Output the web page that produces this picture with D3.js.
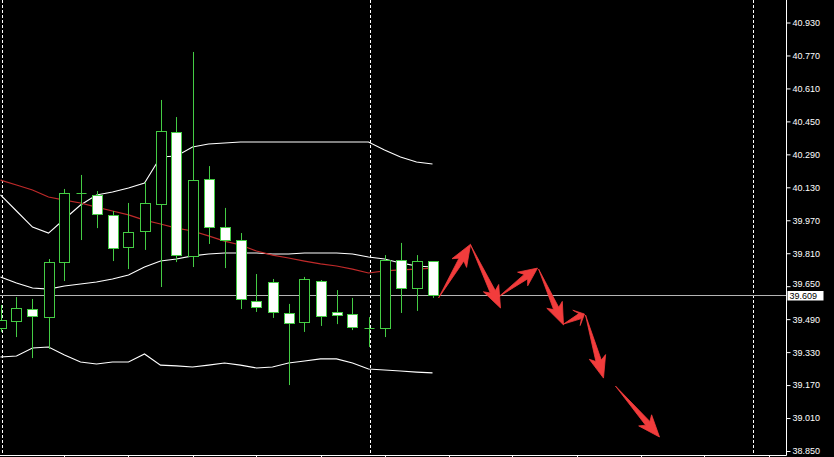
<!DOCTYPE html>
<html><head><meta charset="utf-8">
<script src="https://cdn.jsdelivr.net/npm/d3@7/dist/d3.min.js"></script>
<style>html,body{margin:0;padding:0;background:#000;}svg{display:block;}</style>
</head><body>
<svg id="chart" width="834" height="457"></svg>
<script>
// ---- data ----
const bars   = [0,1,2,3,4,5,6,7,8,9,10,11,12,13,14,15,16,17,18,19,20,21,22,23,24,25,26,27];
const opens  = [39.447,39.481,39.539,39.500,39.767,40.102,40.093,39.996,39.840,39.918,40.049,40.398,39.797,40.170,39.937,39.874,39.578,39.670,39.520,39.476,39.675,39.525,39.515,39.447,39.447,39.777,39.641,39.772];
const highs  = [39.559,39.597,39.588,39.782,40.122,40.190,40.112,40.015,40.054,40.156,40.554,40.471,40.787,40.233,40.030,39.908,39.709,39.685,39.564,39.695,39.680,39.631,39.593,39.500,39.801,39.860,39.801,39.772];
const lows   = [39.428,39.403,39.301,39.345,39.675,39.874,39.932,39.772,39.733,39.826,39.646,39.767,39.743,39.855,39.738,39.539,39.525,39.496,39.170,39.428,39.457,39.466,39.437,39.355,39.403,39.520,39.530,39.593];
const closes = [39.486,39.544,39.505,39.767,40.102,40.102,40.000,39.835,39.913,40.054,40.403,39.801,40.165,39.937,39.874,39.588,39.549,39.525,39.471,39.685,39.505,39.510,39.452,39.447,39.777,39.641,39.772,39.609];
const bbUpper  = [40.093,40.015,39.937,39.908,39.976,40.044,40.093,40.107,40.127,40.151,40.277,40.282,40.326,40.340,40.345,40.350,40.350,40.350,40.350,40.350,40.350,40.350,40.350,40.350,40.311,40.277,40.253,40.243];
const bbMiddle = [39.695,39.665,39.641,39.636,39.651,39.661,39.670,39.685,39.704,39.743,39.772,39.782,39.797,39.806,39.811,39.811,39.811,39.806,39.806,39.811,39.811,39.811,39.806,39.792,39.782,39.763,39.748,39.743];
const bbLower  = [39.306,39.311,39.350,39.355,39.316,39.282,39.272,39.282,39.282,39.321,39.267,39.263,39.258,39.267,39.277,39.267,39.253,39.258,39.277,39.287,39.297,39.297,39.277,39.248,39.243,39.238,39.233,39.229];
const maRed    = [40.165,40.141,40.117,40.083,40.068,40.054,40.034,40.015,39.996,39.971,39.952,39.932,39.918,39.894,39.869,39.850,39.821,39.801,39.787,39.772,39.758,39.748,39.733,39.714,39.724,39.729,39.733,39.738];
const priceTicks = [40.930,40.770,40.610,40.450,40.290,40.130,39.970,39.810,39.650,39.490,39.330,39.170,39.010,38.850];
const currentPrice = 39.609;
const separatorBars = [0,23,47];
// forecast arrows: tail (bar, price) -> tip (bar, price)
const arrowTailBar   = [27.38,29.38,31.13,33.63,35.19,36.56,38.44];
const arrowTailPrice = [39.593,39.850,39.598,39.733,39.466,39.510,39.165];
const arrowTipBar    = [29.38,31.25,33.56,35.19,36.50,37.69,41.19];
const arrowTipPrice  = [39.854,39.544,39.738,39.462,39.515,39.204,38.918];

// ---- layout ----
const W = 834, H = 457, plotRight = 786.5, plotBottom = 455.5;
const x = d3.scaleLinear().domain([0, 48]).range([0.5, 768.5]);
const y = d3.scaleLinear().domain([38.85, 40.93]).range([451, 22.5]);

const svg = d3.select("#chart");
svg.append("rect").attr("width", W).attr("height", H).attr("fill", "#000");

const GREEN = "#44cc44";

// separators
svg.append("g").selectAll("line").data(separatorBars).join("line")
  .attr("x1", d => Math.round(x(d)) + 1.5).attr("x2", d => Math.round(x(d)) + 1.5)
  .attr("y1", 0).attr("y2", plotBottom)
  .attr("stroke", "#fff").attr("stroke-width", 1).attr("stroke-dasharray", "3,2");

// current price line
svg.append("line").attr("x1", 0).attr("x2", plotRight)
  .attr("y1", Math.round(y(currentPrice)) + 0.5).attr("y2", Math.round(y(currentPrice)) + 0.5)
  .attr("stroke", "#b4b4b4").attr("stroke-width", 1);

// indicator lines
const lineGen = arr => d3.line().x((d, i) => x(bars[i])).y(d => y(d))(arr);
[bbUpper, bbMiddle, bbLower].forEach(arr => {
  svg.append("path").attr("d", lineGen(arr)).attr("fill", "none")
    .attr("stroke", "#fff").attr("stroke-width", 1.1);
});
svg.append("path").attr("d", lineGen(maRed)).attr("fill", "none")
  .attr("stroke", "#c02a2a").attr("stroke-width", 1.2);

// candles
const candles = bars.map((b, i) => ({b, o: opens[i], h: highs[i], l: lows[i], c: closes[i]}));
const cg = svg.append("g");
candles.forEach(d => {
  const cx = Math.round(x(d.b)) + 0.5;
  cg.append("line").attr("x1", cx).attr("x2", cx).attr("y1", y(d.h)).attr("y2", y(d.l))
    .attr("stroke", GREEN).attr("stroke-width", 1);
  if (Math.abs(d.o - d.c) < 0.0005) {
    cg.append("line").attr("x1", cx - 5).attr("x2", cx + 5)
      .attr("y1", Math.round(y(d.c)) + 0.5).attr("y2", Math.round(y(d.c)) + 0.5)
      .attr("stroke", GREEN).attr("stroke-width", 1);
  } else {
    const top = y(Math.max(d.o, d.c)), bot = y(Math.min(d.o, d.c));
    cg.append("rect").attr("x", cx - 5).attr("y", Math.round(top) + 0.5)
      .attr("width", 10).attr("height", Math.max(1, Math.round(bot - top)))
      .attr("fill", d.c < d.o ? "#fff" : "#000")
      .attr("stroke", GREEN).attr("stroke-width", 1);
  }
});

// arrows
function arrowPath(x0, y0, x1, y1) {
  const dx = x1 - x0, dy = y1 - y0, L = Math.hypot(dx, dy);
  const ux = dx / L, uy = dy / L, nx = -uy, ny = ux;
  const head = Math.min(22, L * 0.38), shaftW = 2.8, headW = 8.5;
  const bx = x1 - ux * head, by = y1 - uy * head;
  const cx = x1 - ux * (head - 4), cy = y1 - uy * (head - 4);
  const pts = [
    [x0, y0],
    [cx + nx * shaftW, cy + ny * shaftW],
    [bx + nx * headW, by + ny * headW],
    [x1, y1],
    [bx - nx * headW, by - ny * headW],
    [cx - nx * shaftW, cy - ny * shaftW]
  ];
  return "M" + pts.map(p => p[0].toFixed(1) + "," + p[1].toFixed(1)).join("L") + "Z";
}
svg.append("g").selectAll("path").data(arrowTailBar).join("path")
  .attr("d", (d, i) => arrowPath(x(arrowTailBar[i]), y(arrowTailPrice[i]), x(arrowTipBar[i]), y(arrowTipPrice[i])))
  .attr("fill", "#f23c3c").attr("stroke", "#f23c3c").attr("stroke-width", 0.8).attr("stroke-linejoin", "round");

// right axis area
svg.append("rect").attr("x", plotRight + 0.5).attr("y", 0).attr("width", W - plotRight).attr("height", H).attr("fill", "#000");
svg.append("line").attr("x1", plotRight).attr("x2", plotRight).attr("y1", 0).attr("y2", plotBottom)
  .attr("stroke", "#fff").attr("stroke-width", 1);
svg.append("line").attr("x1", 0).attr("x2", plotRight).attr("y1", plotBottom).attr("y2", plotBottom)
  .attr("stroke", "#fff").attr("stroke-width", 1);

// bottom ticks every 4 bars
const xTicks = d3.range(4, 49, 4);
svg.append("g").selectAll("line").data(xTicks).join("line")
  .attr("x1", d => Math.round(x(d)) + 0.5).attr("x2", d => Math.round(x(d)) + 0.5)
  .attr("y1", plotBottom).attr("y2", H).attr("stroke", "#fff");

const yAxis = d3.axisRight(y).tickValues(priceTicks).tickSize(4).tickPadding(2)
  .tickFormat(d3.format(".3f"));
const ga = svg.append("g").attr("transform", `translate(${plotRight},0)`).call(yAxis);
ga.select(".domain").remove();
ga.selectAll(".tick line").attr("stroke", "#fff");
ga.selectAll(".tick text").attr("fill", "#fff")
  .attr("font-family", "'Liberation Sans', Arial, sans-serif").attr("font-size", "9px");
// the label just above the current-price box sits slightly higher, as in the reference
ga.selectAll(".tick text").filter(d => Math.abs(d - currentPrice) < 0.05).attr("dy", "0.05em");

// current price label
const cpY = Math.round(y(currentPrice)) + 0.5;
svg.append("rect").attr("x", plotRight + 1).attr("y", cpY - 4.5).attr("width", 36).attr("height", 9.5).attr("fill", "#fff");
svg.append("text").attr("x", plotRight + 3).attr("y", cpY + 3.2).text(d3.format(".3f")(currentPrice))
  .attr("fill", "#000").attr("font-family", "'Liberation Sans', Arial, sans-serif").attr("font-size", "9px");
</script>
</body></html>
